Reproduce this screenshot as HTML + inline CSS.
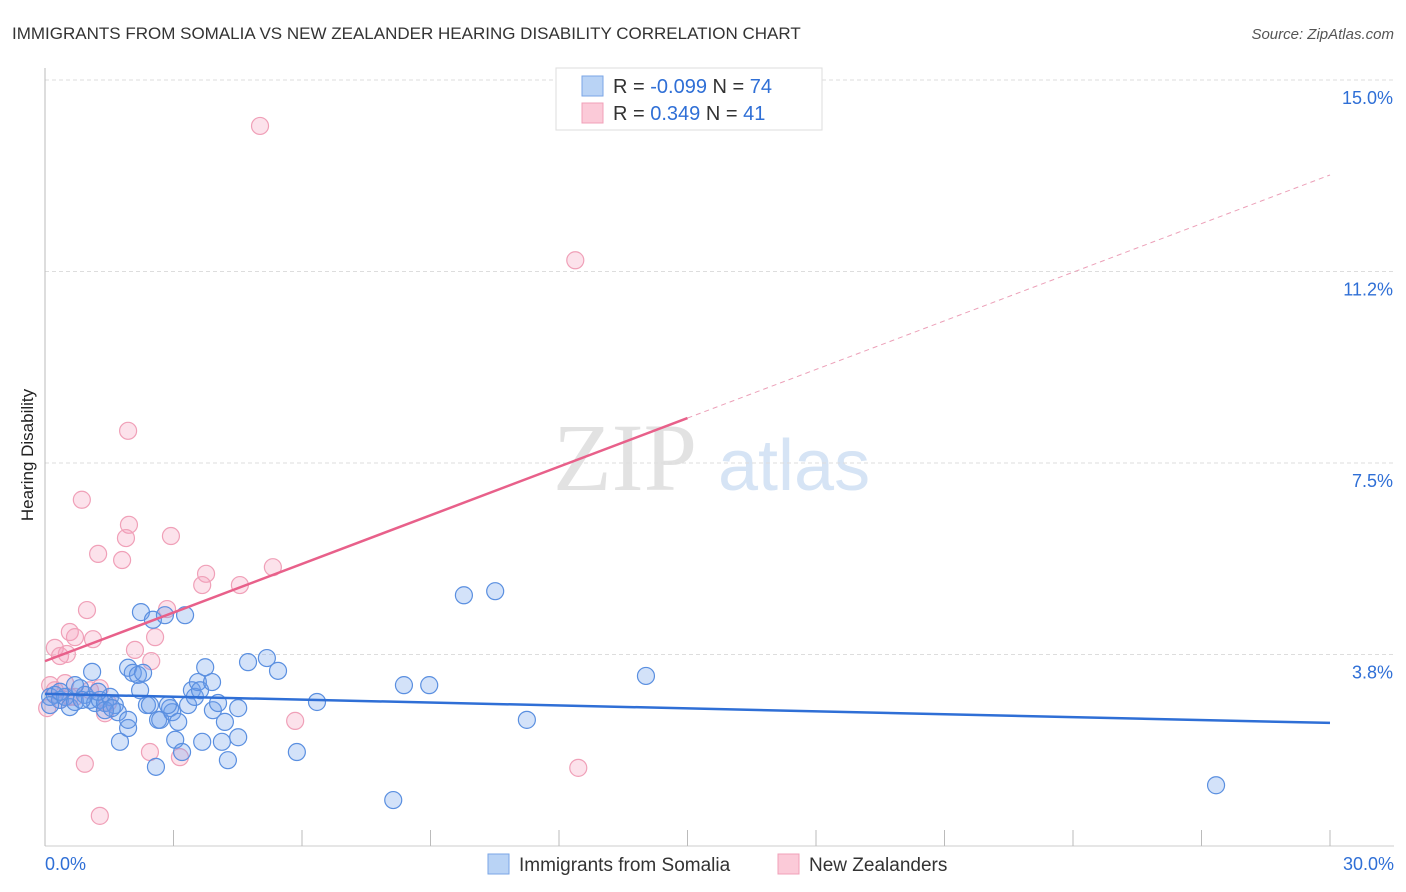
<!DOCTYPE html>
<html><head><meta charset="utf-8"><style>
body{margin:0;background:#fff;font-family:"Liberation Sans",sans-serif}
svg{display:block}
</style></head><body>
<svg id="c" width="1406" height="892">
<text x="12" y="39" font-size="17" fill="#333">IMMIGRANTS FROM SOMALIA VS NEW ZEALANDER HEARING DISABILITY CORRELATION CHART</text>
<text x="1394" y="39" font-size="15" fill="#555" font-style="italic" text-anchor="end">Source: ZipAtlas.com</text>
<text x="33" y="455" font-size="17" fill="#222" text-anchor="middle" transform="rotate(-90 33 455)">Hearing Disability</text>
<g><text x="553" y="490" font-size="96" font-family="Liberation Serif,serif" fill="#e2e2e2">ZIP</text><text x="718" y="490" font-size="72" fill="#d6e4f5">atlas</text></g>
<g id="grid"></g><g id="marks"></g>
<g>
<rect x="556" y="68" width="266" height="62" fill="#fff" stroke="#ddd"/>
<rect x="582" y="76" width="21" height="20" fill="#b9d3f5" stroke="#7aa6e6"/>
<rect x="582" y="103" width="21" height="20" fill="#fbcad8" stroke="#f0a0b8"/>
<text x="613" y="93" font-size="20" fill="#333">R = <tspan fill="#2f6fd6">-0.099</tspan>   N = <tspan fill="#2f6fd6">74</tspan></text>
<text x="613" y="120" font-size="20" fill="#333">R =   <tspan fill="#2f6fd6">0.349</tspan>   N = <tspan fill="#2f6fd6">41</tspan></text>
</g>
<g>
<rect x="488" y="854" width="21" height="20" fill="#b9d3f5" stroke="#7aa6e6"/>
<text x="519" y="871" font-size="19" fill="#333">Immigrants from Somalia</text>
<rect x="778" y="854" width="21" height="20" fill="#fbcad8" stroke="#f0a0b8"/>
<text x="809" y="871" font-size="19" fill="#333">New Zealanders</text>
</g>
</svg>
<script>
const blueX=[0.12,0.23,0.35,0.47,0.58,0.70,0.82,0.93,1.05,1.17,1.28,1.40,1.52,1.63,1.10,1.70,1.75,1.94,1.94,1.94,2.05,2.17,2.24,2.29,2.38,2.45,2.52,2.59,2.64,2.69,2.80,2.92,2.97,3.04,3.11,3.20,3.27,3.34,3.43,3.50,3.57,3.62,3.67,3.74,3.90,3.92,4.04,4.13,4.20,4.27,4.51,4.51,4.74,5.18,5.44,5.88,6.35,8.13,8.38,8.97,9.78,10.51,11.25,14.03,27.34,0.12,0.35,0.70,1.40,0.86,1.24,1.56,2.22,2.87];
const blueY=[2.92,2.96,2.86,2.92,2.72,2.82,3.09,2.96,2.86,2.80,2.86,2.80,2.92,2.76,3.41,2.62,2.04,2.31,2.47,3.49,3.39,3.35,4.58,3.39,2.76,2.76,4.43,1.55,2.47,2.47,4.52,2.70,2.62,2.08,2.43,1.84,4.52,2.76,3.05,2.92,3.21,3.05,2.04,3.50,3.21,2.66,2.80,2.04,2.43,1.68,2.13,2.70,3.60,3.68,3.43,1.84,2.82,0.90,3.15,3.15,4.91,4.99,2.47,3.33,1.19,2.76,3.02,3.15,2.66,2.86,3.02,2.70,3.05,2.76];
const pinkX=[5.02,12.38,1.94,0.86,1.96,1.89,2.94,1.24,1.80,3.76,5.32,4.55,3.67,2.85,0.98,0.58,0.70,1.12,0.23,0.51,0.35,2.10,2.48,2.57,1.28,1.05,0.12,0.23,0.05,0.35,0.58,1.40,1.47,2.45,3.15,0.93,5.84,12.45,1.28,0.47,0.70];
const pinkY=[14.10,11.47,8.13,6.78,6.29,6.03,6.07,5.72,5.60,5.33,5.46,5.11,5.11,4.64,4.62,4.19,4.09,4.05,3.88,3.76,3.72,3.84,3.62,4.09,3.09,3.05,3.15,3.05,2.70,2.86,2.92,2.60,2.80,1.84,1.74,1.61,2.45,1.53,0.59,3.19,2.92];
const yTicks=[3.8,7.5,11.2,15.0];
const yTickVals=[3.75,7.5,11.25,15];
const blueTrend=[2.98,2.41];
const pinkTrend=[3.62,13.14];
const pinkSolidEnd=15;
const sx=v=>45+v/30*1285, sy=v=>846-v/15*766;
const NS="http://www.w3.org/2000/svg";
function mk(t,a,p){const e=document.createElementNS(NS,t);for(const k in a)e.setAttribute(k,a[k]);p.appendChild(e);return e;}
const g=document.getElementById('grid'), m=document.getElementById('marks');
yTickVals.forEach((v,i)=>{
 const l=mk('line',{x1:45,x2:1394,y1:sy(v),y2:sy(v),stroke:'#ddd','stroke-dasharray':'4,3'},g);
 
 
 const t=mk('text',{x:1393,y:sy(v)+24,'font-size':18,fill:'#2f6fd6','text-anchor':'end'},g);
 t.textContent=yTicks[i].toFixed(1)+'%';
 
 
});
mk('line',{x1:45,x2:45,y1:68,y2:846,stroke:'#bbb'},g);
mk('line',{x1:45,x2:1394,y1:846,y2:846,stroke:'#ccc'},g);
for(let i=0;i<=10;i++){const x=sx(i*3);const tk=mk('line',{x1:x,x2:x,y1:830,y2:846,stroke:'#bbb'},g);
 
 }
let t0=mk('text',{x:45,y:870,'font-size':18,fill:'#2f6fd6'},g);t0.textContent='0.0%';


let t1=mk('text',{x:1394,y:870,'font-size':18,fill:'#2f6fd6','text-anchor':'end'},g);t1.textContent='30.0%';


pinkX.forEach((x,i)=>{const c=mk('circle',{cx:sx(x),cy:sy(pinkY[i]),r:8.5,fill:'rgba(245,160,190,0.3)',stroke:'#f0a0b8','stroke-width':1.2},m);
 
 });
blueX.forEach((x,i)=>{const c=mk('circle',{cx:sx(x),cy:sy(blueY[i]),r:8.5,fill:'rgba(110,160,235,0.3)',stroke:'#5a8fe0','stroke-width':1.2},m);
 
 });
const pAt=v=>pinkTrend[0]+(pinkTrend[1]-pinkTrend[0])*v/30;
let l1=mk('line',{x1:sx(0),y1:sy(pinkTrend[0]),x2:sx(pinkSolidEnd),y2:sy(pAt(pinkSolidEnd)),stroke:'#e8608a','stroke-width':2.5},m);


let l2=mk('line',{x1:sx(pinkSolidEnd),y1:sy(pAt(pinkSolidEnd)),x2:sx(30),y2:sy(pinkTrend[1]),stroke:'#eca0b8','stroke-width':1,'stroke-dasharray':'5,4'},m);


let l3=mk('line',{x1:sx(0),y1:sy(blueTrend[0]),x2:sx(30),y2:sy(blueTrend[1]),stroke:'#2f6fd6','stroke-width':2.5},m);


</script>
</body></html>
